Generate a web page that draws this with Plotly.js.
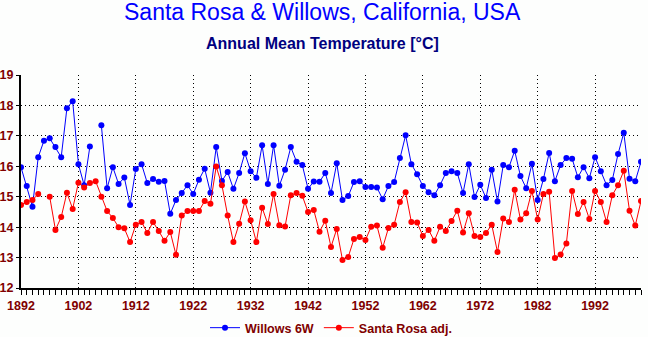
<!DOCTYPE html>
<html>
<head>
<meta charset="utf-8">
<script src="https://cdn.plot.ly/plotly-3.0.1.min.js"></script>
<style>html,body{margin:0;padding:0;background:#fdfefd;}#chart{width:648px;height:337px;}</style>
</head>
<body>
<div id="chart"></div>
<script>
const years = [1892,1893,1894,1895,1896,1897,1898,1899,1900,1901,1902,1903,1904,1905,1906,1907,1908,1909,1910,1911,1912,1913,1914,1915,1916,1917,1918,1919,1920,1921,1922,1923,1924,1925,1926,1927,1928,1929,1930,1931,1932,1933,1934,1935,1936,1937,1938,1939,1940,1941,1942,1943,1944,1945,1946,1947,1948,1949,1950,1951,1952,1953,1954,1955,1956,1957,1958,1959,1960,1961,1962,1963,1964,1965,1966,1967,1968,1969,1970,1971,1972,1973,1974,1975,1976,1977,1978,1979,1980,1981,1982,1983,1984,1985,1986,1987,1988,1989,1990,1991,1992,1993,1994,1995,1996,1997,1998,1999,2000];

const willows6W = [15.97,15.35,14.67,16.30,16.84,16.92,16.63,16.30,17.91,18.14,16.07,15.38,16.65,null,17.35,15.28,15.97,15.42,15.63,14.73,15.91,16.07,15.45,15.58,15.49,15.52,14.44,14.89,15.12,15.38,15.09,15.56,15.92,15.13,16.63,15.52,15.81,15.26,15.78,16.43,15.84,15.62,16.69,15.42,16.69,15.36,15.89,16.63,16.15,16.04,15.26,15.50,15.49,15.78,15.12,16.10,14.89,15.02,15.48,15.51,15.32,15.32,15.30,14.92,15.35,15.48,16.27,17.02,16.07,15.74,15.35,15.15,15.05,15.38,15.78,15.84,15.78,15.12,16.07,14.99,15.39,14.96,15.89,14.84,16.04,15.97,16.51,15.68,15.28,16.08,14.89,15.58,16.44,15.51,16.04,16.27,16.25,15.64,15.97,15.61,16.30,15.84,15.38,15.55,16.40,17.10,15.59,15.51,16.15];

const santaRosaAdj = [14.73,14.83,14.89,15.09,null,15.00,13.91,14.33,15.13,14.60,15.46,15.30,15.45,15.51,15.00,14.53,14.30,14.00,13.96,13.51,14.08,14.17,13.81,14.17,13.87,13.55,13.84,13.09,14.38,14.53,14.53,14.53,14.86,14.77,15.99,15.38,14.38,13.51,14.11,14.84,14.23,13.51,14.64,14.10,15.09,14.06,14.02,15.05,15.12,15.03,14.50,14.56,13.85,14.21,13.35,13.94,12.92,13.02,13.61,13.68,13.58,14.01,14.05,13.32,13.97,14.08,14.83,15.15,14.17,14.15,13.71,13.91,13.55,14.01,13.87,14.20,14.54,13.82,14.46,13.71,13.68,13.81,14.08,13.18,14.28,14.17,15.23,14.25,14.46,15.19,14.25,15.09,15.16,12.99,13.10,13.46,15.19,14.43,14.83,14.27,15.19,14.83,14.17,15.05,15.38,15.85,14.54,14.05,14.86];

const xTickVals = [1892,1902,1912,1922,1932,1942,1952,1962,1972,1982,1992];
const yTickVals = [12,13,14,15,16,17,18,19];

const tickFont = {family:'Liberation Sans, Arial, sans-serif', size:12.5, color:'#800000', weight:'bold'};

const traces = [
  {x: years, y: willows6W, name: 'Willows 6W', type: 'scatter', mode: 'lines+markers',
   line: {color: '#0000ff', width: 1}, marker: {color: '#0000ff', size: 6}, connectgaps: false},
  {x: years, y: santaRosaAdj, name: 'Santa Rosa adj.', type: 'scatter', mode: 'lines+markers',
   line: {color: '#ff0000', width: 1}, marker: {color: '#ff0000', size: 6}, connectgaps: false}
];

const layout = {
  width: 648, height: 337,
  margin: {l: 21, r: 7, t: 75, b: 49, autoexpand: false},
  paper_bgcolor: '#fdfefd', plot_bgcolor: '#fdfefd',
  showlegend: true,
  legend: {orientation: 'h', x: 0.5, xanchor: 'center', y: -0.188, yanchor: 'middle',
           font: {family:'Liberation Sans, Arial, sans-serif', size: 12.5, color: '#800000', weight:'bold'},
           bgcolor: 'rgba(0,0,0,0)', itemwidth: 30},
  xaxis: {range: [1892, 2000], tickvals: xTickVals, ticktext: xTickVals.map(String),
          showgrid: true, gridcolor: '#000000', gridwidth: 1, griddash: '1px,3px',
          showline: true, linecolor: '#000000', linewidth: 2, zeroline: false,
          ticks: 'outside', ticklen: 5, tickwidth: 1, tickcolor: '#000000',
          minor: {dtick: 1, tick0: 1892, ticks: 'outside', ticklen: 5, tickwidth: 1, tickcolor: '#000000', showgrid: false},
          tickfont: tickFont, fixedrange: true, automargin: false},
  yaxis: {range: [12, 19], tickvals: yTickVals, showgrid: true, gridcolor: '#000000', gridwidth: 1, griddash: '1px,3px',
          showline: true, linecolor: '#000000', linewidth: 2, zeroline: false,
          ticks: 'outside', ticklen: 3, tickwidth: 1, tickcolor: '#000000',
          tickfont: tickFont, fixedrange: true, automargin: false},
  annotations: [
    {text: 'Santa Rosa & Willows, California, USA', xref: 'paper', yref: 'paper', x: 0.486, y: 1.296, yanchor: 'middle',
     showarrow: false, font: {family: 'Liberation Sans, Arial, sans-serif', size: 23, color: '#0000ff'}},
    {text: '<b>Annual Mean Temperature [°C]</b>', xref: 'paper', yref: 'paper', x: 0.486, y: 1.148, yanchor: 'middle',
     showarrow: false, font: {family: 'Liberation Sans, Arial, sans-serif', size: 16, color: '#000080'}}
  ]
};

Plotly.newPlot('chart', traces, layout, {displayModeBar: false, staticPlot: true});
</script>
</body>
</html>
